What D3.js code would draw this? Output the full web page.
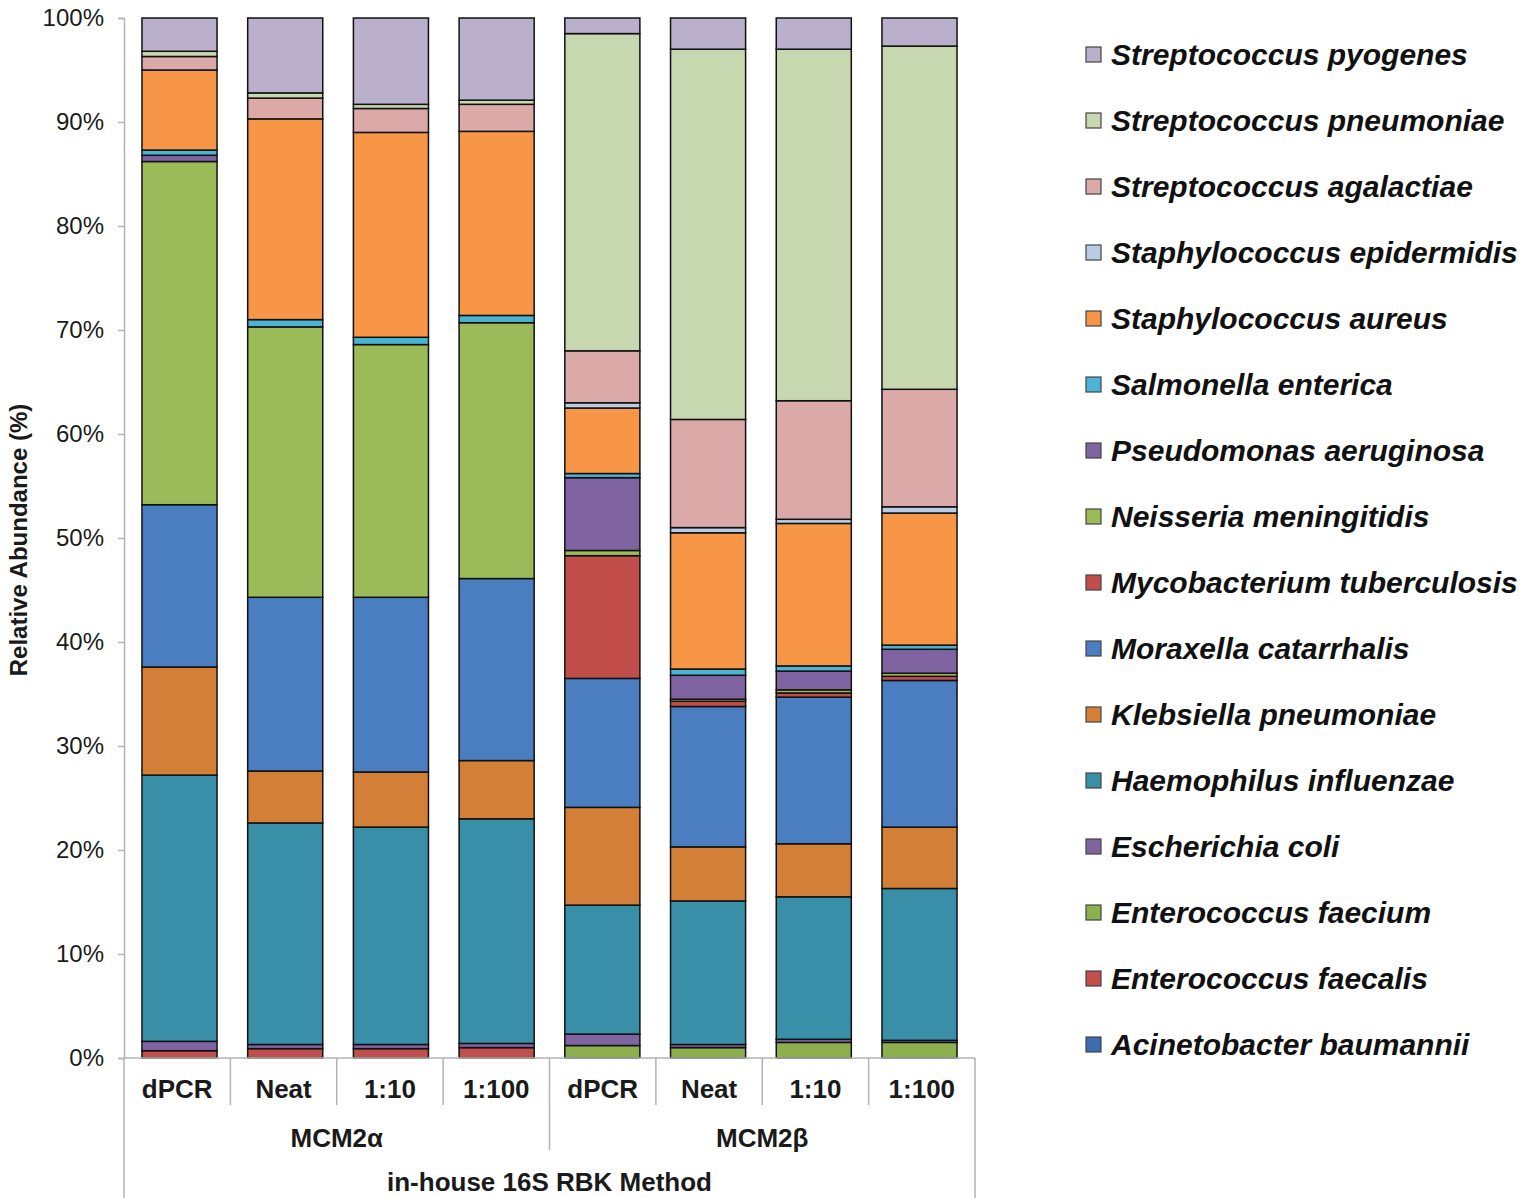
<!DOCTYPE html>
<html>
<head>
<meta charset="utf-8">
<script src="https://cdn.jsdelivr.net/npm/d3@7"></script>
<style>
  body { margin: 0; background: #fff; }
  svg { display: block; }
</style>
</head>
<body>
<script>
// samples along the x axis
const samples = ["dPCR", "Neat", "1:10", "1:100", "dPCR", "Neat", "1:10", "1:100"];
const groups = ["MCM2α", "MCM2β"];
const method = "in-house 16S RBK Method";

// species in stacking order, bottom first
const species = [
  "Acinetobacter baumannii", "Enterococcus faecalis", "Enterococcus faecium",
  "Escherichia coli", "Haemophilus influenzae", "Klebsiella pneumoniae",
  "Moraxella catarrhalis", "Mycobacterium tuberculosis", "Neisseria meningitidis",
  "Pseudomonas aeruginosa", "Salmonella enterica", "Staphylococcus aureus",
  "Staphylococcus epidermidis", "Streptococcus agalactiae",
  "Streptococcus pneumoniae", "Streptococcus pyogenes"
];

const colors = [
  "#3d6db0", "#c0504d", "#8db04f", "#8064a2", "#3a8fa8", "#d47f37",
  "#4a7ec0", "#c24e4b", "#9bbb59", "#8064a2", "#4bb4d4", "#f79646",
  "#b9cde5", "#dca9a9", "#c7d8b0", "#bab0cc"
];

// relative abundance (%) per species, one value per sample
const abundance = {
  "Acinetobacter baumannii":    [0,    0,    0,    0,    0,    0,    0,    0],
  "Enterococcus faecalis":      [0.7,  0.9,  0.9,  1.0,  0,    0,    0,    0],
  "Enterococcus faecium":       [0,    0,    0,    0,    1.2,  1.0,  1.5,  1.5],
  "Escherichia coli":           [0.9,  0.4,  0.4,  0.4,  1.1,  0.3,  0.3,  0.2],
  "Haemophilus influenzae":     [25.6, 21.3, 20.9, 21.6, 12.4, 13.8, 13.7, 14.6],
  "Klebsiella pneumoniae":      [10.4, 5.0,  5.3,  5.6,  9.4,  5.2,  5.1,  5.9],
  "Moraxella catarrhalis":      [15.6, 16.7, 16.8, 17.5, 12.4, 13.5, 14.1, 14.1],
  "Mycobacterium tuberculosis": [0,    0,    0,    0,    11.8, 0.5,  0.4,  0.4],
  "Neisseria meningitidis":     [33.0, 26.0, 24.3, 24.6, 0.5,  0.2,  0.3,  0.3],
  "Pseudomonas aeruginosa":     [0.6,  0,    0,    0,    7.0,  2.3,  1.8,  2.3],
  "Salmonella enterica":        [0.5,  0.7,  0.7,  0.7,  0.4,  0.6,  0.5,  0.4],
  "Staphylococcus aureus":      [7.7,  19.3, 19.7, 17.7, 6.3,  13.1, 13.7, 12.7],
  "Staphylococcus epidermidis": [0,    0,    0,    0,    0.5,  0.5,  0.4,  0.6],
  "Streptococcus agalactiae":   [1.3,  2.0,  2.3,  2.6,  5.0,  10.4, 11.4, 11.3],
  "Streptococcus pneumoniae":   [0.5,  0.5,  0.4,  0.4,  30.5, 35.6, 33.8, 33.0],
  "Streptococcus pyogenes":     [3.2,  7.2,  8.3,  7.9,  1.5,  3.0,  3.0,  2.7]
};

const yTicks = [0, 0.1, 0.2, 0.3, 0.4, 0.5, 0.6, 0.7, 0.8, 0.9, 1];

const width = 1535, height = 1198;
const plot = {left: 124, right: 975, top: 18, bottom: 1058};
const axisGray = "#b3b3b3";
const sans = "Liberation Sans, Arial, sans-serif";

const svg = d3.select("body").append("svg")
    .attr("width", width)
    .attr("height", height);

const rows = samples.map((s, i) => {
  const r = {idx: i};
  species.forEach(sp => r[sp] = abundance[sp][i] / 100);
  return r;
});
const stacked = d3.stack().keys(species)(rows);

const x = d3.scaleBand()
    .domain(d3.range(samples.length))
    .range([plot.left, plot.right])
    .paddingInner(0.29)
    .paddingOuter(0.17);

const y = d3.scaleLinear().domain([0, 1]).range([plot.bottom, plot.top]);
const color = d3.scaleOrdinal().domain(species).range(colors);

// y axis
const yAxis = svg.append("g")
    .attr("transform", `translate(${plot.left},0)`)
    .call(d3.axisLeft(y).tickValues(yTicks).tickFormat(d3.format(".0%")).tickSize(6).tickPadding(14));
yAxis.select(".domain").attr("stroke", axisGray).attr("stroke-width", 1.5);
yAxis.selectAll(".tick line").attr("stroke", axisGray).attr("stroke-width", 1.5);
yAxis.selectAll(".tick text")
    .attr("font-family", sans)
    .attr("font-size", 24)
    .attr("fill", "#1a1a1a");

svg.append("text")
    .attr("transform", `translate(27,${(plot.top + plot.bottom) / 2 + 2}) rotate(-90)`)
    .attr("text-anchor", "middle")
    .attr("font-family", sans)
    .attr("font-weight", "bold")
    .attr("font-size", 24)
    .attr("fill", "#1a1a1a")
    .text("Relative Abundance (%)");

// bars
svg.append("g")
  .selectAll("g")
  .data(stacked)
  .join("g")
    .attr("fill", d => color(d.key))
  .selectAll("rect")
  .data(d => d.filter(p => p[1] - p[0] > 0))
  .join("rect")
    .attr("x", p => x(p.data.idx))
    .attr("width", x.bandwidth())
    .attr("y", p => y(p[1]))
    .attr("height", p => y(p[0]) - y(p[1]))
    .attr("stroke", "#111")
    .attr("stroke-width", 1.5);

// category axis: baseline + multi-level separators
const bounds = d3.range(samples.length + 1)
    .map(i => plot.left + i * (plot.right - plot.left) / samples.length);
const sep = svg.append("g").attr("stroke", axisGray).attr("stroke-width", 1.5);
sep.append("line")
    .attr("x1", plot.left).attr("x2", plot.right)
    .attr("y1", plot.bottom).attr("y2", plot.bottom);
bounds.forEach((bx, i) => {
  let y2 = 1105;
  if (i === 0 || i === samples.length) y2 = height;
  else if (i === samples.length / 2) y2 = 1150;
  sep.append("line").attr("x1", bx).attr("x2", bx).attr("y1", plot.bottom).attr("y2", y2);
});

const narrow = "Liberation Sans Narrow, Arial Narrow, sans-serif";
svg.append("g")
  .selectAll("text")
  .data(samples)
  .join("text")
    .attr("x", (d, i) => (bounds[i] + bounds[i + 1]) / 2)
    .attr("y", 1098)
    .attr("text-anchor", "middle")
    .attr("font-family", narrow)
    .attr("font-weight", "bold")
    .attr("font-size", 26)
    .attr("fill", "#1a1a1a")
    .text(d => d);

svg.append("g")
  .selectAll("text")
  .data(groups)
  .join("text")
    .attr("x", (d, i) => (bounds[i * 4] + bounds[i * 4 + 4]) / 2)
    .attr("y", 1147)
    .attr("text-anchor", "middle")
    .attr("font-family", narrow)
    .attr("font-weight", "bold")
    .attr("font-size", 26)
    .attr("fill", "#1a1a1a")
    .text(d => d);

svg.append("text")
    .attr("x", (plot.left + plot.right) / 2)
    .attr("y", 1191)
    .attr("text-anchor", "middle")
    .attr("font-family", narrow)
    .attr("font-weight", "bold")
    .attr("font-size", 26)
    .attr("fill", "#1a1a1a")
    .text(method);

// legend, top entry = top of stack
const legendItems = species.slice().reverse();
const legend = svg.append("g")
  .selectAll("g")
  .data(legendItems)
  .join("g")
    .attr("transform", (d, i) => `translate(1086,${55 + i * 66})`);

legend.append("rect")
    .attr("x", 0)
    .attr("y", -8)
    .attr("width", 15)
    .attr("height", 15)
    .attr("fill", d => color(d))
    .attr("stroke", "#444")
    .attr("stroke-width", 1.2);

legend.append("text")
    .attr("x", 25)
    .attr("y", 10)
    .attr("font-family", sans)
    .attr("font-weight", "bold")
    .attr("font-style", "italic")
    .attr("font-size", 30)
    .attr("fill", "#111")
    .text(d => d);
</script>
</body>
</html>
